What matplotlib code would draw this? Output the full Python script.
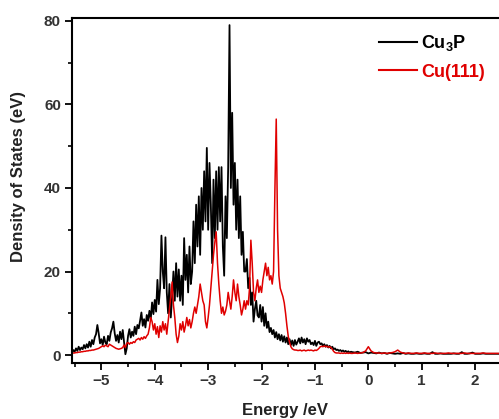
import numpy as np
import matplotlib
matplotlib.use("Agg")
import matplotlib.pyplot as plt
from matplotlib.ticker import MultipleLocator

plt.rcParams['font.family'] = ['Liberation Sans', 'DejaVu Sans']
plt.rcParams['font.weight'] = 'bold'
plt.rcParams['mathtext.fontset'] = 'custom'
plt.rcParams['mathtext.rm'] = 'Liberation Sans:bold'
plt.rcParams['mathtext.default'] = 'rm'

# Energy sample grids (eV)
energy_fine = np.round(-5.55 + 0.025 * np.arange(210), 3)   # -5.55 .. -0.325
energy_tail = np.round(-0.30 + 0.05 * np.arange(56), 3)     # -0.30 .. 2.45

# Cu3P density of states (fine grid, 10 values per 0.25 eV)
cu3p_fine = [
    0.6, 1.2, 0.8, 1.6, 1.0, 2.0, 1.2, 1.8, 1.4, 2.4,
    1.6, 2.6, 1.8, 3.2, 2.0, 3.6, 2.6, 4.2, 5.0, 7.2,
    5.2, 2.8, 3.8, 2.4, 4.4, 3.0, 2.6, 4.6, 3.4, 5.4,
    6.4, 8.0, 5.2, 3.4, 4.8, 3.0, 5.6, 3.8, 6.0, 3.2,
    0.2, 1.6, 4.6, 6.2, 4.2, 5.6, 4.6, 6.8, 5.0, 7.2,
    6.4, 8.2, 10.2, 7.0, 8.6, 6.6, 9.6, 8.2, 10.6, 8.6,
    12.6, 9.8, 13.2, 10.4, 18.0, 12.2, 16.0, 28.6, 20.0, 16.0,
    28.2, 15.0, 10.0, 17.0, 9.0, 14.0, 20.0, 13.0, 22.0, 14.0,
    20.5, 13.0, 19.0, 12.0, 28.0, 18.0, 24.0, 15.0, 26.0, 17.0,
    20.0, 32.0, 22.0, 36.0, 26.0, 38.0, 24.0, 40.0, 30.0, 44.0,
    32.0, 49.6, 30.0, 46.0, 36.0, 22.0, 42.0, 28.0, 44.0, 30.0,
    45.0, 32.0, 45.0, 26.0, 19.0, 38.0, 28.0, 45.0, 79.0, 40.0,
    58.0, 36.0, 46.0, 30.0, 42.0, 28.0, 38.0, 24.0, 29.5, 20.0,
    20.0, 23.0, 16.0, 18.5, 12.0, 15.0, 8.0, 11.0, 13.0, 9.5,
    9.0, 12.0, 8.0, 11.5, 7.0, 10.0, 6.5, 8.0, 5.5, 6.5,
    5.0, 6.0, 4.2, 5.5, 3.8, 5.0, 3.5, 4.8, 3.2, 4.5,
    3.0, 4.2, 2.6, 3.8, 2.4, 3.5, 2.2, 3.6, 2.5, 3.2,
    4.0, 2.8, 4.2, 3.0, 3.8, 2.6, 4.0, 3.2, 3.6, 2.6,
    3.0, 2.4, 3.4, 2.2, 3.0, 3.2, 2.6, 2.8, 2.2, 2.6,
    2.0, 2.4, 1.8, 2.2, 1.6, 2.0, 1.4, 1.6, 1.2, 1.3,
    1.0, 1.2, 0.9, 1.1, 0.8, 1.0, 0.7, 0.9, 0.6, 0.8,
]
cu3p_tail = [
    0.7, 0.6, 0.8, 0.5, 0.6, 0.7, 0.4, 0.6,
    0.5, 0.4, 0.6, 0.4, 0.5, 0.3, 0.5, 0.4,
    0.3, 0.4, 0.3, 0.5, 0.3, 0.4, 0.3, 0.3,
    0.4, 0.3, 0.3, 0.4, 0.3, 0.3, 0.7, 0.3,
    0.3, 0.4, 0.3, 0.3, 0.3, 0.3, 0.4, 0.3,
    0.3, 0.7, 0.3, 0.3, 0.4, 0.6, 0.3, 0.3,
    0.3, 0.4, 0.3, 0.3, 0.3, 0.3, 0.3, 0.3,
]

# Cu(111) density of states
cu111_fine = [
    0.4, 0.5, 0.5, 0.6, 0.6, 0.7, 0.7, 0.8, 0.8, 0.9,
    0.9, 1.0, 1.0, 1.1, 1.1, 1.2, 1.2, 1.3, 1.4, 1.5,
    1.6, 1.8, 2.0, 2.2, 2.0, 2.4, 2.2, 2.0, 2.6, 2.4,
    2.2, 2.0, 1.8, 1.6, 1.5, 1.4, 1.5, 1.6, 1.8, 2.4,
    1.8, 2.8, 3.0, 2.6, 3.0, 2.8, 3.2, 3.0, 3.6, 3.8,
    4.0, 3.6, 4.2, 3.8, 4.4, 4.0, 4.6, 5.0, 6.5, 9.0,
    8.0, 6.0, 7.5, 5.0, 6.8, 4.2, 7.0, 5.5, 8.0, 6.0,
    7.5, 5.0, 8.0, 11.0, 14.0, 17.5, 12.0, 9.0, 5.0, 3.0,
    4.5, 7.5, 6.0, 8.0, 5.5, 7.0, 9.0, 7.0, 8.5, 6.5,
    8.0, 10.0, 11.5, 10.0, 12.0, 14.0, 17.0, 15.0, 13.0, 12.0,
    8.0, 6.5, 9.0, 12.0, 16.0, 20.0, 24.0, 27.0, 29.5, 22.0,
    17.0, 13.0, 10.0, 11.5, 9.6, 10.5, 12.0, 15.0, 13.0, 11.0,
    14.0, 18.0, 15.0, 13.0, 17.0, 14.0, 12.0, 9.6, 11.0, 13.0,
    11.0, 13.0, 12.0, 16.0, 27.5, 22.0, 15.0, 13.0, 16.0, 18.0,
    15.0, 16.5, 15.0, 18.0, 20.0, 22.0, 19.0, 21.0, 18.0, 19.0,
    17.0, 20.0, 39.5, 56.5, 30.0, 19.0, 16.0, 15.0, 14.0, 12.5,
    10.0, 7.0, 4.5, 3.0, 2.0, 1.5, 1.3, 1.2, 1.2, 1.1,
    1.1, 1.2, 1.0, 1.1, 1.2, 1.0, 1.1, 1.2, 1.1, 1.2,
    1.1, 1.0, 1.2, 1.1, 1.3, 1.6, 2.0, 2.1, 2.0, 2.2,
    2.0, 2.1, 1.9, 2.0, 1.8, 1.4, 0.9, 0.6, 0.5, 0.5,
    0.5, 0.4, 0.5, 0.4, 0.5, 0.4, 0.5, 0.4, 0.5, 0.4,
]
cu111_tail = [
    0.4, 0.5, 0.4, 0.5, 0.6, 1.0, 2.0, 1.0,
    0.6, 0.5, 0.5, 0.4, 0.5, 0.4, 0.5, 0.6,
    0.8, 1.2, 0.7, 0.5, 0.4, 0.5, 0.4, 0.4,
    0.5, 0.4, 0.4, 0.5, 0.4, 0.4, 0.4, 0.5,
    0.4, 0.4, 0.4, 0.4, 0.5, 0.4, 0.4, 0.4,
    0.4, 0.4, 0.5, 0.4, 0.4, 0.4, 0.4, 0.4,
    0.4, 0.5, 0.4, 0.4, 0.4, 0.4, 0.4, 0.4,
]

series_labels = ["Cu$_3$P", "Cu(111)"]
x_ticks = [-5, -4, -3, -2, -1, 0, 1, 2]
y_ticks = [0, 20, 40, 60, 80]

energy = np.concatenate([energy_fine, energy_tail])
dos_cu3p = np.array(cu3p_fine + cu3p_tail)
dos_cu111 = np.array(cu111_fine + cu111_tail)

fig = plt.figure(figsize=(4.99, 4.19), dpi=100)
ax = fig.add_axes([72 / 499, 56 / 419, 427 / 499, 345 / 419])

ax.plot(energy, dos_cu3p, color='black', lw=1.3, label=series_labels[0])
ax.plot(energy, dos_cu111, color='#e00000', lw=1.1, label=series_labels[1])

ax.set_xlim(-5.55, 2.447)
ax.set_ylim(-1.9, 80.7)
ax.set_xticks(x_ticks)
ax.set_yticks(y_ticks)
ax.xaxis.set_minor_locator(MultipleLocator(0.5))
ax.yaxis.set_minor_locator(MultipleLocator(10))
ax.tick_params(which='major', direction='out', length=5, width=1.3,
               labelsize=11, pad=3, top=False, right=False)
ax.tick_params(which='minor', direction='out', length=3, width=1.2,
               top=False, right=False)
for lab in ax.get_xticklabels() + ax.get_yticklabels():
    lab.set_fontweight('bold')
    lab.set_color('#333333')

for s in ['left', 'bottom', 'top']:
    ax.spines[s].set_linewidth(1.5)
ax.spines['right'].set_visible(False)

ax.set_xlabel("Energy /eV", fontsize=12, fontweight='bold', color='#222222')
ax.set_ylabel("Density of States (eV)", fontsize=12, fontweight='bold', color='#222222')
ax.yaxis.set_label_coords(-0.108, 0.54)
ax.xaxis.set_label_coords(0.5, -0.115)

leg = ax.legend(loc='upper left', bbox_to_anchor=(0.719, 0.957), frameon=False,
                borderpad=0, borderaxespad=0, handlelength=2.1, handletextpad=0.25,
                labelspacing=0.6, prop={'size': 13, 'weight': 'bold'},
                labelcolor='linecolor')
for line in leg.get_lines():
    line.set_linewidth(1.5)

fig.savefig("out.png", dpi=100)
